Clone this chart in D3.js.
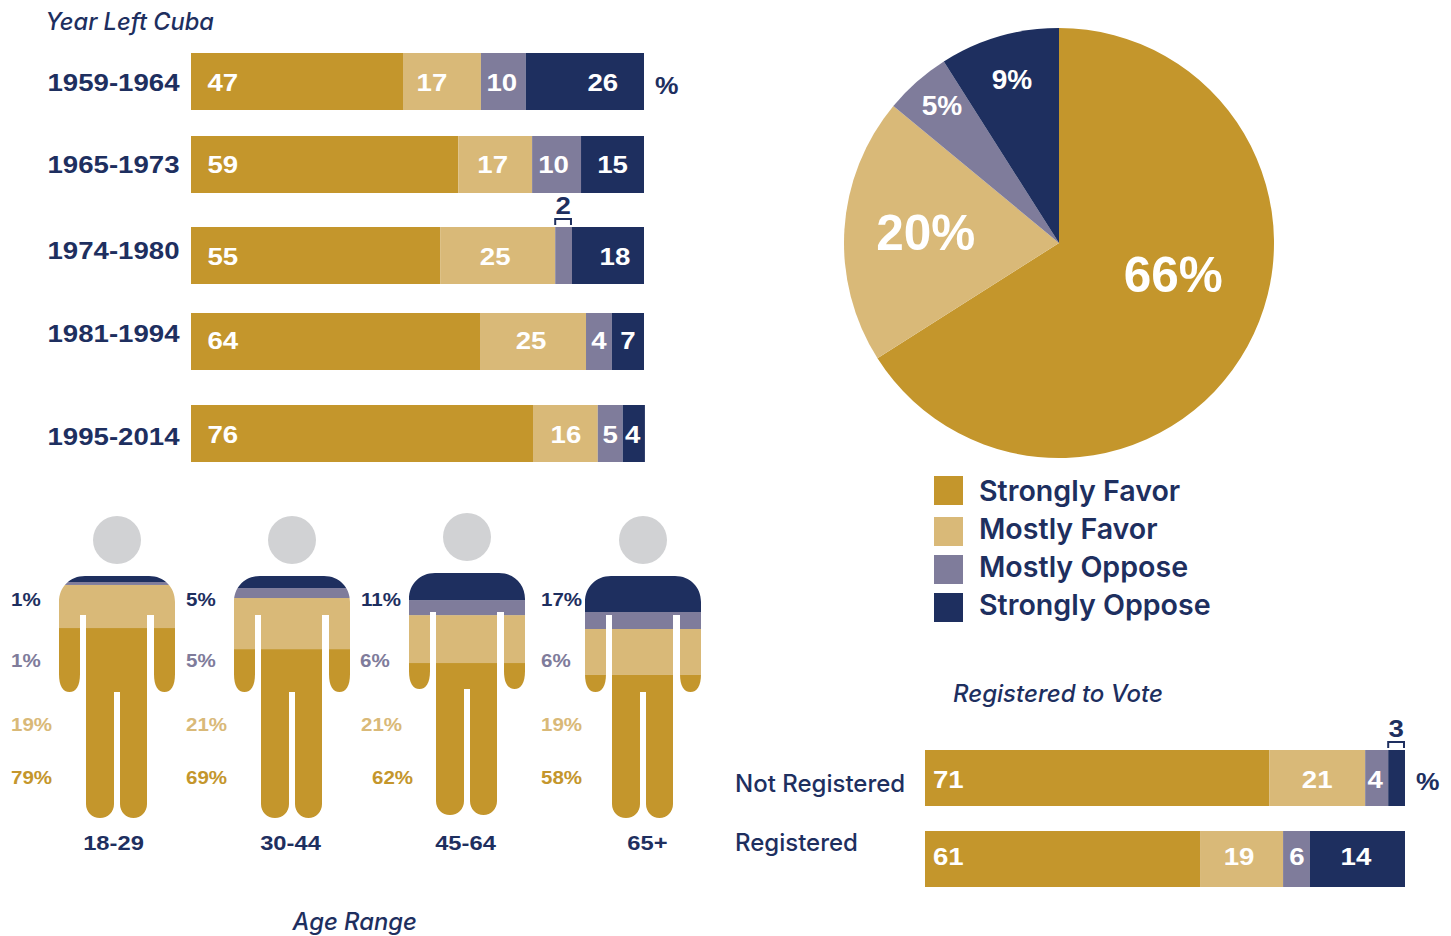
<!DOCTYPE html>
<html><head><meta charset="utf-8">
<script src="https://cdn.jsdelivr.net/npm/d3@7"></script>
<style>html,body{margin:0;padding:0;background:#fff;overflow:hidden}svg{display:block}text{font-family:Inter,"Liberation Sans",sans-serif}</style>
</head><body><svg id="c" width="1451" height="936"></svg>
<script>
const responses=["Strongly Favor","Mostly Favor","Mostly Oppose","Strongly Oppose"];
const colors=["#c4962c","#d9b978","#7f7c9b","#1e2f5f"];
const navy="#1e2f5f", grey="#d1d2d4";

// Year left Cuba: drawn shares and printed labels
const yearCats=["1959-1964","1965-1973","1974-1980","1981-1994","1995-2014"];
const yearShares=[[46.8,17.2,9.9,26.1],[59,16.3,10.8,13.9],[55,25.4,3.7,15.9],[63.8,23.4,5.7,7.1],[75.5,14.3,5.5,4.9]];
const yearLabels=[[47,17,10,26],[59,17,10,15],[55,25,2,18],[64,25,4,7],[76,16,5,4]];
// Registered to vote
const regCats=["Not Registered","Registered"];
const regShares=[[71.7,20,4.8,3.5],[57.3,17.3,5.6,19.8]];
const regLabels=[[71,21,4,3],[61,19,6,14]];
// Pie
const pieValues=[66,20,5,9];
// Age range figures
const ageCats=["18-29","30-44","45-64","65+"];
const ageShares=[[78.5,17.8,1.2,2.5],[69.8,21.1,4.1,5],[62.8,19.8,6.2,11.2],[59.1,19,7,14.9]];
const ageLabels=[[79,19,1,1],[69,21,5,5],[62,21,6,11],[58,19,6,17]];

// layout
const yearRowY=[53,136,227,313,405], yearTextY=[82,164,250,333,436], yearNumY=[82,164,256,340,434];
const yearDx=[[0,-10,-1.5,18],[0,-2.5,-3,0],[0,-2.5,0,7],[0,-2,0,0],[0,.5,0,-1]];
const regDx=[[0,0,-1.5,0],[0,-2.5,.5,-1.5]], regNumY=[779,856];
const figX=[59,234,409,585], figY=[576,576,573,576];
const ageLabelX=[[11,11,11,11],[186,186,186,186],[372,361,360,361],[541,541,541,541]];
const ageLabelY=[777,724,660,599], ageNameX=[113.5,290.5,465.5,647.5];

const svg=d3.select("#c");
// Helvetica-like bold text, widened a little as in the reference
function wide(s,size,sx){
  s.style("font-family",'"Liberation Sans",sans-serif').style("font-size",size+"px").style("font-weight",700);
  s.each(function(){const n=this.getComputedTextLength();
    d3.select(this).attr("textLength",n*sx).attr("lengthAdjust","spacingAndGlyphs");});
}
const NUM=24, NUMX=1.15;

function stacked(g,cats,shares,labels,dx,yScale,numY,h,x0,x1,firstInset,outside){
  const xs=d3.scaleLinear().domain([0,100]).range([x0,x1]);
  const stack=d3.stack().keys([0,1,2,3])(shares);
  cats.forEach((c,r)=>{
    const row=g.append("g");
    stack.forEach((s,k)=>{
      row.append("rect").attr("x",xs(s[r][0])).attr("width",xs(s[r][1])-xs(s[r][0]))
        .attr("y",yScale(c)).attr("height",h).attr("fill",colors[k]);
      const cx=(xs(s[r][0])+xs(s[r][1]))/2+dx[r][k];
      if(outside.some(o=>o[0]===r&&o[1]===k)){
        const a=xs(s[r][0])-1, b=xs(s[r][1]), top=yScale(c)-9;
        row.append("path").attr("d",d3.line()([[a+1,top+7],[a+1,top+1],[b-1,top+1],[b-1,top+7]]))
          .attr("fill","none").attr("stroke",navy).attr("stroke-width",2);
        row.append("text").attr("x",(a+b)/2).attr("y",top-4).attr("text-anchor","middle").attr("fill",navy)
          .text(labels[r][k]).call(wide,NUM,NUMX);
      }else{
        row.append("text").attr("x",k===0?xs(0)+firstInset:cx).attr("y",numY[r]+8.6)
          .attr("text-anchor",k===0?"start":"middle").attr("fill","#fff").text(labels[r][k]).call(wide,NUM,NUMX);
      }
    });
  });
}

// year bars
const yearY=d3.scaleOrdinal().domain(yearCats).range(yearRowY);
stacked(svg.append("g"),yearCats,yearShares,yearLabels,yearDx,yearY,yearNumY,57,191,644,16.5,[[2,2]]);
yearCats.forEach((c,i)=>svg.append("text").attr("x",47.5).attr("y",yearTextY[i]+8.5).attr("fill",navy).text(c).call(wide,NUM,NUMX));
svg.append("text").attr("x",655).attr("y",94).attr("fill",navy).text("%").call(wide,NUM,1.1);
svg.append("text").attr("x",45.5).attr("y",30).attr("fill",navy).style("font-size","23.6px").style("font-style","italic").style("font-weight",500).text("Year Left Cuba");

// registered bars
const regY=d3.scaleOrdinal().domain(regCats).range([750,831]);
stacked(svg.append("g"),regCats,regShares,regLabels,regDx,regY,regNumY,56,925,1405,8,[[0,3]]);
regCats.forEach((c,i)=>svg.append("text").attr("x",735).attr("y",[792,851][i]).attr("fill",navy).style("font-size","24px").style("font-weight",500).text(c));
svg.append("text").attr("x",1416).attr("y",790).attr("fill",navy).text("%").call(wide,NUM,1.1);
svg.append("text").attr("x",953).attr("y",702).attr("fill",navy).style("font-size","24px").style("font-style","italic").style("font-weight",500).text("Registered to Vote");

// pie
const pieG=svg.append("g").attr("transform","translate(1059,243)");
const arcs=d3.pie().sort(null)(pieValues);
const arc=d3.arc().innerRadius(0).outerRadius(215);
pieG.selectAll("path").data(arcs).join("path").attr("d",arc).attr("fill",(d,i)=>colors[i]);
const pieDelta=[[20,-21],[-26,-4],[-46,-57],[-17,-61]], pieSize=[49.5,49.5,28,28];
pieG.selectAll("text").data(arcs).join("text")
  .attr("x",(d,i)=>arc.centroid(d)[0]+pieDelta[i][0]).attr("y",(d,i)=>arc.centroid(d)[1]+pieDelta[i][1]+pieSize[i]*.358)
  .attr("text-anchor","middle").attr("fill","#fff")
  .style("font-family",'"Liberation Sans",sans-serif').style("font-size",(d,i)=>pieSize[i]+"px").style("font-weight",700)
  .text(d=>d.value+"%");

// legend
const legY=d3.scaleOrdinal().domain(responses).range([476,517,555,593]);
responses.forEach((r,i)=>{
  svg.append("rect").attr("x",934).attr("y",legY(r)).attr("width",29).attr("height",29).attr("fill",colors[i]);
  svg.append("text").attr("x",979).attr("y",[501,539,577,615][i]).attr("fill",navy).style("font-size","28.6px").style("font-weight",600).text(r);
});

// figures
function bodyPath(){
  const p=d3.path(), r=26, lr=14;
  p.moveTo(0,r); p.bezierCurveTo(0,11,11,0,r,0); p.lineTo(116-r,0); p.bezierCurveTo(105,0,116,11,116,r);
  p.lineTo(116,98); p.bezierCurveTo(116,110,112,116,105.5,116); p.bezierCurveTo(99,116,95,110,95,98);
  p.lineTo(95,39); p.lineTo(88,39); p.lineTo(88,242-lr);
  p.bezierCurveTo(88,236,82,242,74.5,242); p.bezierCurveTo(67,242,61,236,61,242-lr);
  p.lineTo(61,116); p.lineTo(55,116); p.lineTo(55,242-lr);
  p.bezierCurveTo(55,236,49,242,41,242); p.bezierCurveTo(33,242,27,236,27,242-lr);
  p.lineTo(27,39); p.lineTo(21,39); p.lineTo(21,98);
  p.bezierCurveTo(21,110,17,116,10.5,116); p.bezierCurveTo(4,116,0,110,0,98); p.closePath();
  return p.toString();
}
const defs=svg.append("defs");
const figStack=d3.stack().keys([0,1,2,3])(ageShares);
const figH=d3.scaleLinear().domain([0,100]).range([242,0]);
ageCats.forEach((c,i)=>{
  defs.append("clipPath").attr("id","b"+i).append("path").attr("d",bodyPath());
  const g=svg.append("g").attr("transform",`translate(${figX[i]},${figY[i]})`);
  g.append("circle").attr("cx",58).attr("cy",-36).attr("r",24).attr("fill",grey);
  const bands=g.append("g").attr("clip-path",`url(#b${i})`);
  figStack.forEach((s,k)=>bands.append("rect").attr("x",-2).attr("width",120)
    .attr("y",figH(s[i][1])).attr("height",figH(s[i][0])-figH(s[i][1])).attr("fill",colors[k]));
  ageLabels[i].forEach((v,k)=>svg.append("text").attr("x",ageLabelX[i][k]).attr("y",ageLabelY[k]+7)
    .attr("fill",colors[k]).text(v+"%").call(wide,19,1.08));
  svg.append("text").attr("x",ageNameX[i]).attr("y",850).attr("text-anchor","middle").attr("fill",navy).text(c).call(wide,21,1.13);
});
svg.append("text").attr("x",292.5).attr("y",930).attr("fill",navy).style("font-size","23.8px").style("font-style","italic").style("font-weight",500).text("Age Range");
</script></body></html>
